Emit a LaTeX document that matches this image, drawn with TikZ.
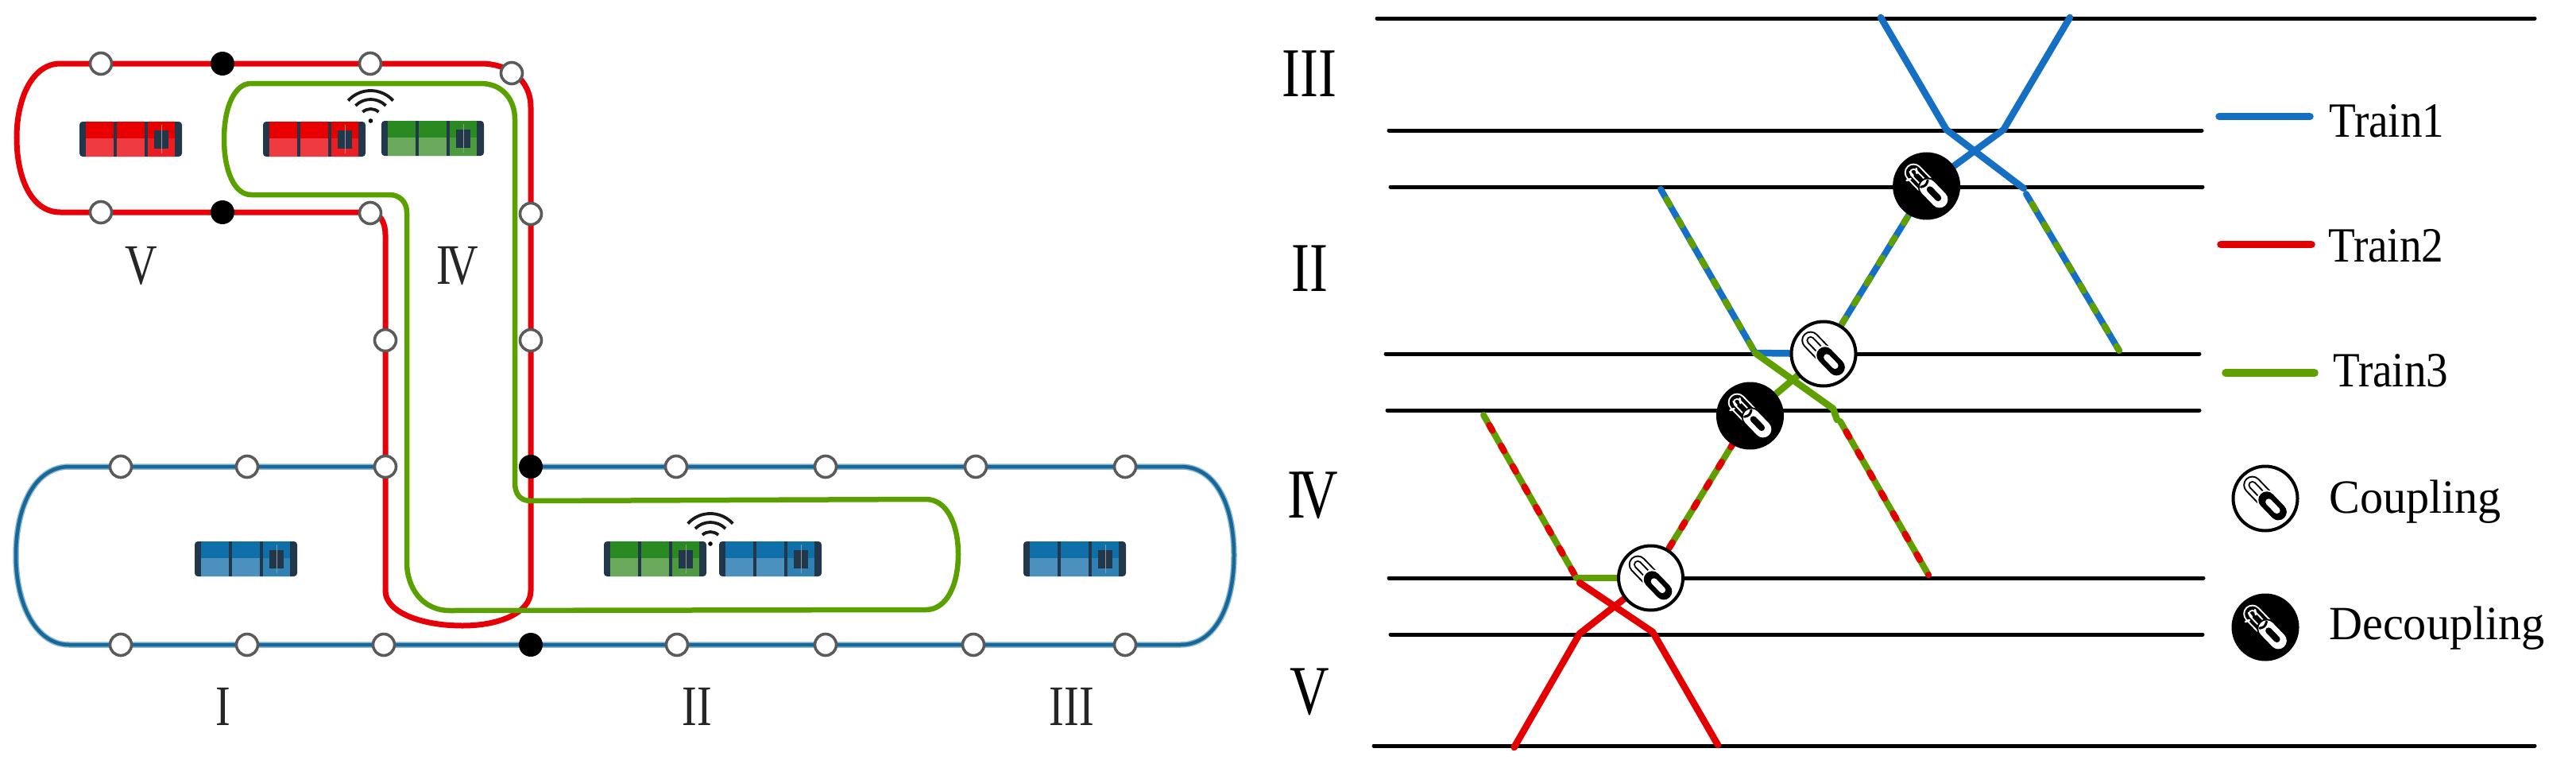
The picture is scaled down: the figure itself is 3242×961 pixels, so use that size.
\documentclass[tikz,border=0pt]{standalone}
\usepackage{fontspec}
\setmainfont{Liberation Serif}
\newfontfamily\romanlab[FakeStretch=0.78]{Liberation Serif}
\newfontfamily\trainlab[FakeStretch=0.89]{Liberation Serif}
\newfontfamily\linklab[FakeStretch=0.97]{Liberation Serif}
\definecolor{trkred}{HTML}{E60008}
\definecolor{trkgreen}{HTML}{5AA000}
\definecolor{trkblue}{HTML}{2A7BAA}
\definecolor{trkcore}{HTML}{17689A}
\definecolor{t1}{HTML}{1570C4}
\definecolor{t2}{HTML}{E20000}
\definecolor{t3}{HTML}{5FA000}
\definecolor{frameD}{HTML}{22384A}
\definecolor{stnedge}{HTML}{5A5A5A}
\definecolor{carRedA}{HTML}{E80000}
\definecolor{carRedB}{HTML}{EE3A40}
\definecolor{carGreenA}{HTML}{2A8A22}
\definecolor{carGreenB}{HTML}{6AA85C}
\definecolor{carBlueA}{HTML}{0F6FA8}
\definecolor{carBlueB}{HTML}{4C90BD}
\tikzset{
  stn/.style={circle,draw=stnedge,fill=white,line width=3.6pt,minimum size=27pt,inner sep=0pt},
  stnblack/.style={circle,fill=black,minimum size=30pt,inner sep=0pt},
  redtrk/.style={draw=trkred,line width=7pt},
  greentrk/.style={draw=trkgreen,line width=6.5pt},
  bluetrk/.style={draw=trkblue!55!white,line width=7.5pt},
  bluecore/.style={draw=trkcore,line width=4.5pt},
  timeline/.style={draw=black,line width=5pt,line cap=round},
  run/.style={line width=8.5pt,line cap=round,line join=round},
  mixdash/.style={line width=8pt,line cap=round,dash pattern=on 8pt off 21.7pt},
  mixbase/.style={line width=8pt,line cap=round},
  cplnode/.style={circle,draw=black,fill=white,line width=4pt,minimum size=81pt,inner sep=0pt},
  dclnode/.style={circle,draw=black,fill=black,line width=4pt,minimum size=81pt,inner sep=0pt},
  labA/.style={font=\romanlab\fontsize{72}{72}\selectfont,anchor=base,inner sep=0pt,text=black!85},
  labB/.style={font=\romanlab\fontsize{88}{88}\selectfont,anchor=base,inner sep=0pt},
  trainlabel/.style={font=\trainlab\fontsize{62}{62}\selectfont,anchor=base west,inner sep=0pt},
  linklabel/.style={font=\linklab\fontsize{60}{60}\selectfont,anchor=base west,inner sep=0pt},
  legendline/.style={line width=9.5pt,line cap=round},
  wave/.style={draw=black!90,line width=3.8pt},
}
% a three-car train: x, y of top left, upper colour, lower colour
\newcommand\TrainCars[4]{%
  \begin{scope}[shift={(#1,#2)}]
    \fill[frameD,rounded corners=4pt] (0,0) rectangle (129,44);
    \foreach \a/\b in {8/42.5,47/81.5}{
      \fill[#3] (\a,0) rectangle (\b,21);
      \fill[#4] (\a,21) rectangle (\b,44);
    }
    \fill[#3] (86,0) rectangle (120,44);
    \fill[#4,opacity=.55] (86,21) rectangle (120,44);
    \fill[frameD] (94,11) rectangle (112,34);
    \draw[black!40,line width=.5pt] (103,4) -- (103,40);
  \end{scope}}
% wifi mark at a named coordinate
\newcommand\WifiMark[1]{%
  \begin{scope}[shift={(#1)},yscale=-1]
    \fill[black] (0,0) circle (2.8);
    \foreach \r/\s in {15/42,27/45,38/48}{
      \draw[wave] ({90-\s}:\r) arc[start angle=90-\s,end angle=90+\s,radius=\r];
    }
  \end{scope}}
% joined chain links on a named node
\newcommand\CoupleMark[1]{%
  \begin{scope}[shift={(#1)},yscale=-1,rotate=46,line cap=round]
    \draw[black,line width=23pt] (-23.5,0) -- (-3.5,0);
    \draw[white,line width=19pt] (-23.5,0) -- (-3.5,0);
    \draw[black,line width=10.5pt] (-23.5,0) -- (-3.5,0);
    \draw[white,line width=6.5pt] (-23.5,0) -- (-3.5,0);
    \draw[white,line width=25pt] (2.5,0) -- (23.5,0);
    \draw[black,line width=21pt] (2.5,0) -- (23.5,0);
    \draw[white,line width=8pt] (6,0) -- (21,0);
  \end{scope}}
% broken chain links on a named node
\newcommand\DecoupleMark[1]{%
  \begin{scope}[shift={(#1)},yscale=-1]
    \begin{scope}[rotate=46,line cap=round]
      \draw[white,line width=23pt] (-23.5,0) -- (-3.5,0);
      \draw[black,line width=19pt] (-23.5,0) -- (-3.5,0);
      \draw[white,line width=10.5pt] (-23.5,0) -- (-3.5,0);
      \draw[black,line width=6.5pt] (-23.5,0) -- (-3.5,0);
      \draw[black,line width=25pt] (2.5,0) -- (23.5,0);
      \draw[white,line width=21pt] (2.5,0) -- (23.5,0);
      \draw[black,line width=8pt] (6,0) -- (21,0);
      \draw[black,line width=3pt] (-4,-6) .. controls (-1,-1) and (-1,1) .. (-4,6);
    \end{scope}
    \draw[white,line width=2.6pt,line cap=round] (-20,9) -- (-25,7);
    \draw[white,line width=2.6pt,line cap=round] (-17,13) -- (-21,18);
    \draw[white,line width=2.6pt,line cap=round] (-12,16) -- (-13,22);
  \end{scope}}

\begin{document}
\begin{tikzpicture}[x=1pt,y=-1pt]
\useasboundingbox (0,0) rectangle (3242,961);

%================ left: track plan ================
% blue loop
\foreach \st in {bluetrk,bluecore}{
  \draw[\st] (485,587) -- (87,587) .. controls (45,587) and (20,635) .. (20,699)
     .. controls (20,760) and (45,811) .. (87,811) -- (1486,811)
     .. controls (1530,811) and (1553,760) .. (1553,699)
     .. controls (1553,635) and (1530,587) .. (1486,587) -- (668,587);
}
% red loop
\draw[redtrk] (76,80) -- (605,80) .. controls (640,80) and (668,100) .. (668,135)
   -- (668,743) .. controls (668,770) and (630,787) .. (582,787)
   .. controls (530,787) and (485,770) .. (485,743)
   -- (485,295) .. controls (485,280) and (478,267) .. (466,267) -- (76,267)
   .. controls (40,267) and (21,225) .. (21,173)
   .. controls (21,125) and (40,80) .. (76,80) -- cycle;
% green loop
\draw[greentrk] (316,105) -- (605,105) .. controls (632,105) and (648,125) .. (648,150)
   -- (648,607) .. controls (648,622) and (655,630) .. (668,630) -- (1165,628)
   .. controls (1192,628) and (1206,660) .. (1206,697)
   .. controls (1206,735) and (1192,767) .. (1165,767) -- (566,768)
   .. controls (532,768) and (512,740) .. (512,707)
   -- (512,267) .. controls (512,254) and (503,245) .. (490,245) -- (316,245)
   .. controls (295,245) and (282,215) .. (282,175)
   .. controls (282,135) and (295,105) .. (316,105) -- cycle;
% stations
\foreach \n/\x/\y in {a1/127/80,a2/466/80,a3/644/92,a4/127/267,a5/466/268,a6/668/269,a7/668/428,a8/485/428,
   b1/152/587,b2/311/587,b3/485/587,b4/851/587,b5/1039/587,b6/1228/587,b7/1416/587,
   c1/152/811,c2/311/811,c3/483/811,c4/852/811,c5/1039/811,c6/1225/811,c7/1416/811}{
  \node[stn] (\n) at (\x,\y) {};
}
\foreach \n/\x/\y in {k1/280/80,k2/280/267,k3/668/587,k4/668/811}{
  \node[stnblack] (\n) at (\x,\y) {};
}
% trains
\TrainCars{100}{153}{carRedA}{carRedB}
\TrainCars{331}{153}{carRedA}{carRedB}
\TrainCars{480}{152}{carGreenA}{carGreenB}
\TrainCars{245}{681}{carBlueA}{carBlueB}
\TrainCars{760}{681}{carGreenA}{carGreenB}
\TrainCars{905}{681}{carBlueA}{carBlueB}
\TrainCars{1288}{681}{carBlueA}{carBlueB}
\coordinate (w1) at (466.5,152);
\coordinate (w2) at (894,684);
\WifiMark{w1}
\WifiMark{w2}
% section labels
\node[labA] (lV) at (178,357) {V};
\node[labA] (lIV) at (576,357) {I\kern-.1em V};
\node[labA] (lI) at (281,912) {I};
\node[labA] (lII) at (877,912) {II};
\node[labA] (lIII) at (1349,912) {III};

%================ right: time-space chart ================
\foreach \n/\xa/\xb/\y in {1/1733/3190/23,2/1748/2771/164,3/1750/2772/235,4/1744/2768/445,
   5/1746/2768/516,6/1748/2773/727,7/1750/2772/798,8/1729/3190/938}{
  \coordinate (L\n a) at (\xa,\y);
  \coordinate (L\n b) at (\xb,\y);
  \draw[timeline] (L\n a) -- (L\n b);
}
% chain-link nodes
\coordinate (Pdc1) at (2424.6,234);
\coordinate (Pcp1) at (2295,445);
\coordinate (Pdc2) at (2202.5,523);
\coordinate (Pcp2) at (2077.5,727);
% break points
\coordinate (B1) at (2367,22);
\coordinate (B2) at (2449.5,163);
\coordinate (B3) at (2547,237);
\coordinate (B4) at (2605,22);
\coordinate (B5) at (2521.6,163);
\coordinate (M1) at (2090,238);
\coordinate (M2) at (2209,444);
\coordinate (M3) at (2550,244);
\coordinate (M4) at (2667,441);
\coordinate (G1) at (2307,514);
\coordinate (G2) at (2312,528);
\coordinate (N1) at (1867,522);
\coordinate (N2) at (1984,727);
\coordinate (N3) at (2316,530);
\coordinate (N4) at (2427,723);
\coordinate (R1) at (1988,733);
\coordinate (R2) at (2080,795);
\coordinate (R3) at (2162,937);
\coordinate (R4) at (1988,797);
\coordinate (R5) at (1905.6,940);
% two-colour legs: train 1 with train 3
\foreach \a/\b in {M1/M2,M3/M4,Pcp1/Pdc1}{
  \draw[mixbase,t1] (\a) -- (\b);
  \draw[mixdash,t3,dash phase=15] (\a) -- (\b);
}
% two-colour legs: train 3 with train 2
\foreach \a/\b in {N1/N2,N3/N4,Pcp2/Pdc2}{
  \draw[mixbase,t3] (\a) -- (\b);
  \draw[mixdash,t2,dash phase=15] (\a) -- (\b);
}
% solid runs
\draw[run,t1] (B1) -- (B2) -- (B3);
\draw[run,t1] (B4) -- (B5) -- (Pdc1);
\draw[run,t1] (M2) -- (Pcp1);
\draw[run,t3] (M2) -- (G1) -- (G2);
\draw[run,t3] (Pdc2) -- (Pcp1);
\draw[run,t3] (N2) -- (Pcp2);
\draw[run,t2] (R1) -- (R2) -- (R3);
\draw[run,t2] (Pcp2) -- (R4) -- (R5);
\node[dclnode] (dc1) at (Pdc1) {};
\node[cplnode] (cp1) at (Pcp1) {};
\node[dclnode] (dc2) at (Pdc2) {};
\node[cplnode] (cp2) at (Pcp2) {};
\DecoupleMark{dc1}
\CoupleMark{cp1}
\DecoupleMark{dc2}
\CoupleMark{cp2}
% section labels
\node[labB] (rIII) at (1648,121) {III};
\node[labB] (rII) at (1648,366) {II};
\node[labB] (rIV) at (1652,651) {I\kern-.1em V};
\node[labB] (rV) at (1648,898) {V};
% legend
\coordinate (e1a) at (2793,146.5); \coordinate (e1b) at (2907,146.5);
\coordinate (e2a) at (2795,307.5); \coordinate (e2b) at (2909,307.5);
\coordinate (e3a) at (2801,469);   \coordinate (e3b) at (2913,469);
\draw[legendline,t1] (e1a) -- (e1b);
\draw[legendline,t2] (e2a) -- (e2b);
\draw[legendline,t3] (e3a) -- (e3b);
\node[trainlabel] (tt1) at (2931,172) {Train1};
\node[trainlabel] (tt2) at (2930,329) {Train2};
\node[trainlabel] (tt3) at (2936,486) {Train3};
\node[cplnode] (lc) at (2851,627) {};
\node[dclnode] (ld) at (2851,789) {};
\CoupleMark{lc}
\DecoupleMark{ld}
\node[linklabel] (tc) at (2931,645) {Coupling};
\node[linklabel] (td) at (2931,804) {Decoupling};
\end{tikzpicture}
\end{document}
